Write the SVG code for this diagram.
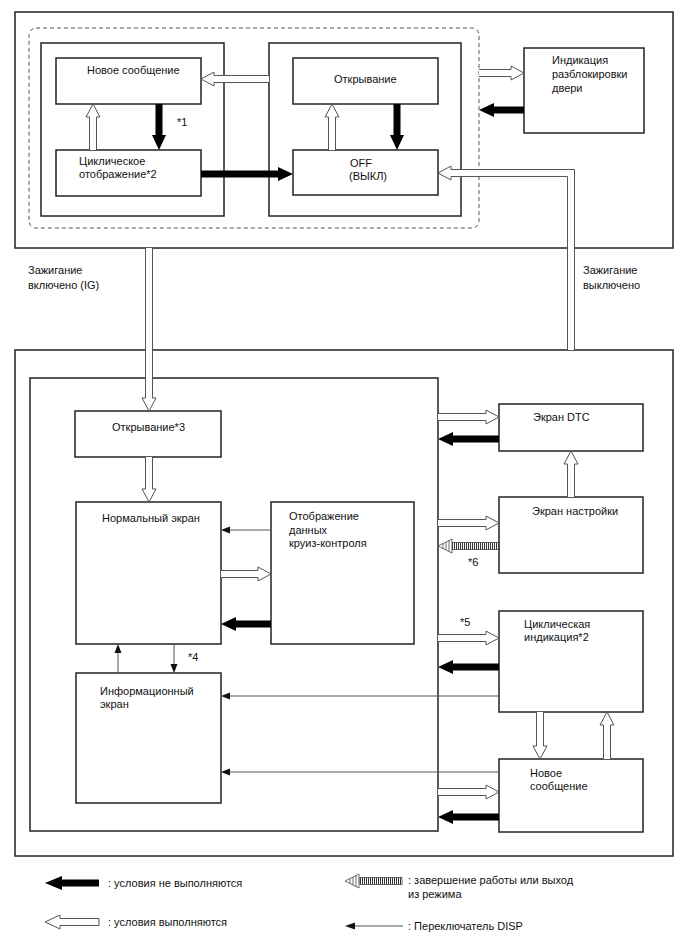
<svg xmlns="http://www.w3.org/2000/svg" width="688" height="949" viewBox="0 0 688 949">
<style>
text{font-family:"Liberation Sans",Arial,sans-serif;font-size:11px;fill:#111}
.box{fill:#fff;stroke:#222;stroke-width:1.5}
.frame{fill:none;stroke:#222;stroke-width:1.5}
.dash{fill:none;stroke:#555;stroke-width:1;stroke-dasharray:4 3}
.ok{fill:#fff;stroke:#555;stroke-width:1}
.no{fill:#000;stroke:none}
.disp{fill:none;stroke:#555;stroke-width:1}
.dh{fill:#111;stroke:none}
.st{fill:url(#stripes);stroke:#444;stroke-width:0.8}
.sh{fill:#fff;stroke:#444;stroke-width:0.8}
</style>
<defs>
<pattern id="stripes" width="2" height="10" patternUnits="userSpaceOnUse"><rect x="0" y="0" width="1" height="10" fill="#333"/></pattern>
</defs>
<rect width="688" height="949" fill="#fff"/>

<g id="top-frame">
<rect class="frame" x="15" y="12" width="658" height="236"/>
<rect class="dash" x="29" y="28" width="450" height="200" rx="7"/>
<rect class="frame" x="41" y="43" width="183" height="173"/>
<rect class="frame" x="269" y="43" width="192" height="173"/>
</g>
<g id="node-new-msg-top"><rect class="box" x="56" y="58" width="145" height="46"/><text x="87" y="74">Новое сообщение</text></g>
<g id="node-cyclic-top"><rect class="box" x="56" y="150" width="145" height="46"/><text x="79" y="165">Циклическое</text><text x="79" y="178">отображение*2</text></g>
<g id="node-opening-top"><rect class="box" x="293" y="58" width="145" height="46"/><text x="334" y="83">Открывание</text></g>
<g id="node-off"><rect class="box" x="293" y="150" width="145" height="45"/><text x="350" y="167">OFF</text><text x="349" y="180">(ВЫКЛ)</text></g>
<g id="node-door"><rect class="box" x="524" y="48" width="120" height="85"/><text x="552" y="64">Индикация</text><text x="552" y="78">разблокировки</text><text x="552" y="92">двери</text></g>

<g id="labels-ign">
<text x="28" y="274">Зажигание</text><text x="28" y="289">включено (IG)</text>
<text x="583" y="274">Зажигание</text><text x="583" y="289">выключено</text>
</g>

<g id="bottom-frame">
<rect class="frame" x="15" y="350" width="658" height="506"/>
<rect class="frame" x="30" y="378" width="408" height="453"/>
</g>
<g id="node-opening3"><rect class="box" x="75" y="411" width="146" height="46"/><text x="112" y="431">Открывание*3</text></g>
<g id="node-normal"><rect class="box" x="76" y="502" width="145" height="142"/><text x="102" y="522">Нормальный экран</text></g>
<g id="node-cruise"><rect class="box" x="271" y="502" width="143" height="142"/><text x="289" y="520">Отображение</text><text x="289" y="534">данных</text><text x="289" y="547">круиз-контроля</text></g>
<g id="node-info"><rect class="box" x="76" y="673" width="145" height="130"/><text x="100" y="695">Информационный</text><text x="100" y="708">экран</text></g>
<g id="node-dtc"><rect class="box" x="499" y="404" width="144" height="47"/><text x="533" y="421">Экран DTC</text></g>
<g id="node-settings"><rect class="box" x="499" y="497" width="144" height="76"/><text x="532" y="515">Экран настройки</text></g>
<g id="node-cyclic-ind"><rect class="box" x="499" y="611" width="144" height="101"/><text x="524" y="628">Циклическая</text><text x="524" y="641">индикация*2</text></g>
<g id="node-new-msg"><rect class="box" x="499" y="759" width="144" height="73"/><text x="530" y="777">Новое</text><text x="530" y="790">сообщение</text></g>

<g id="connectors">
<!-- top section -->
<path class="ok" d="M269,75.5 H214 V72 L201,79 L214,86 V82.5 H269"/>
<path class="no" d="M155.5,104 V135 H152 L159,150 L166,135 H162.5 V104 Z"/>
<path class="ok" d="M89.5,150 V117 H86 L93,104 L100,117 H96.5 V150"/>
<path class="no" d="M201,170.5 H278 V167 L293,174 L278,181 V177.5 H201 Z"/>
<path class="ok" d="M328.5,150 V117 H325 L332,104 L339,117 H335.5 V150"/>
<path class="no" d="M393.5,104 V135 H390 L397,150 L404,135 H400.5 V104 Z"/>
<path class="ok" d="M479,69.5 H511 V66 L524,73 L511,80 V76.5 H479"/>
<path class="no" d="M524,106.5 H494 V103 L479,110 L494,117 V113.5 H524 Z"/>
<path class="ok" d="M567.5,350 V176.5 H451 V180 L438,173 L451,166 V169.5 H574.5 V350"/>
<text x="177" y="126">*1</text>
<!-- ignition on -->
<path class="ok" d="M145.5,248 V398 H142 L149,411 L156,398 H152.5 V248"/>
<!-- bottom section -->
<path class="ok" d="M145.5,457 V489 H142 L149,502 L156,489 H152.5 V457"/>
<line class="disp" x1="271" y1="530" x2="228" y2="530"/><path class="dh" d="M221,530 L230,526.5 V533.5 Z"/>
<path class="ok" d="M221,570.5 H258 V567 L271,574 L258,581 V577.5 H221"/>
<path class="no" d="M271,620.5 H236 V617 L221,624 L236,631 V627.5 H271 Z"/>
<line class="disp" x1="118" y1="673" x2="118" y2="652"/><path class="dh" d="M118,644 L114.5,653 H121.5 Z"/>
<line class="disp" x1="174" y1="644" x2="174" y2="665"/><path class="dh" d="M174,673 L170.5,664 H177.5 Z"/>
<text x="188" y="661">*4</text>
<path class="ok" d="M438,413.5 H486 V410 L499,417 L486,424 V420.5 H438"/>
<path class="no" d="M499,435.5 H453 V432 L438,439 L453,446 V442.5 H499 Z"/>
<path class="ok" d="M567.5,497 V464 H564 L571,451 L578,464 H574.5 V497"/>
<path class="ok" d="M438,519.5 H486 V516 L499,523 L486,530 V526.5 H438"/>
<rect class="st" x="452" y="542.5" width="47" height="7"/>
<path class="sh" d="M438,546 L452,539 V553 Z"/>
<path d="M443,543.5 V548.5 M446,542 V550 M449,540.5 V551.5" stroke="#444" stroke-width="0.8"/>
<text x="468" y="566">*6</text>
<text x="460" y="626">*5</text>
<path class="ok" d="M438,634.5 H486 V631 L499,638 L486,645 V641.5 H438"/>
<path class="no" d="M499,663.5 H453 V660 L438,667 L453,674 V670.5 H499 Z"/>
<line class="disp" x1="499" y1="696" x2="228" y2="696"/><path class="dh" d="M221,696 L230,692.5 V699.5 Z"/>
<path class="ok" d="M536.5,712 V746 H533 L540,759 L547,746 H543.5 V712"/>
<path class="ok" d="M603.5,759 V725 H600 L607,712 L614,725 H610.5 V759"/>
<line class="disp" x1="499" y1="772" x2="228" y2="772"/><path class="dh" d="M221,772 L230,768.5 V775.5 Z"/>
<path class="ok" d="M438,788.5 H486 V785 L499,792 L486,799 V795.5 H438"/>
<path class="no" d="M499,813.5 H453 V810 L438,817 L453,824 V820.5 H499 Z"/>
</g>

<g id="legend">
<path class="no" d="M99,879.5 H62 V876 L45,883 L62,890 V886.5 H99 Z"/>
<text x="108" y="887">: условия не выполняются</text>
<path class="ok" d="M99,918.5 H60 V915 L45,922 L60,929 V925.5 H99 Z"/>
<text x="108" y="926">: условия выполняются</text>
<rect class="st" x="360" y="877.5" width="42" height="7"/>
<path class="sh" d="M345,881 L359,874 V888 Z"/>
<path d="M350,878.5 V883.5 M353,877 V885 M356,875.5 V886.5" stroke="#444" stroke-width="0.8"/>
<text x="408" y="884">: завершение работы или выход</text>
<text x="408" y="898">из режима</text>
<line class="disp" x1="403" y1="926" x2="352" y2="926"/><path class="dh" d="M345,926 L355,922.5 V929.5 Z"/>
<text x="408" y="930">: Переключатель DISP</text>
</g>
</svg>
